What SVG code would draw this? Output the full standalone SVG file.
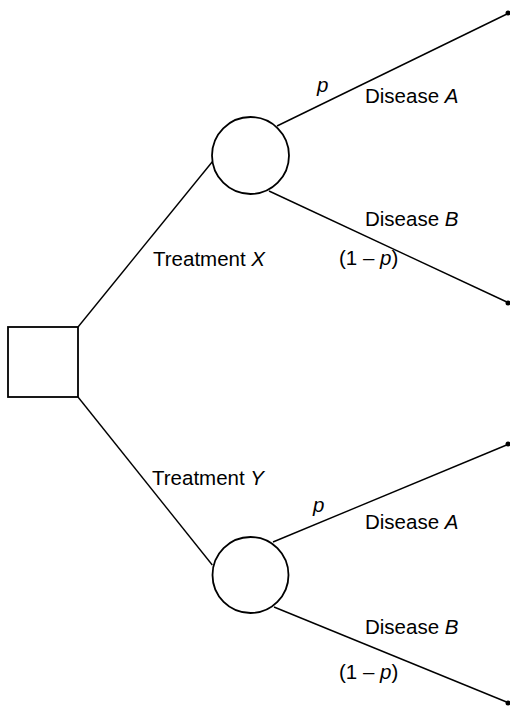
<svg xmlns="http://www.w3.org/2000/svg" width="510" height="709" viewBox="0 0 510 709">
<style>
.shape{fill:#fff;stroke:#000;stroke-width:1.8}
.edge{stroke:#000;stroke-width:1.4;fill:none}
.dot{fill:#000}
text{font-family:"Liberation Sans",Arial,sans-serif;font-size:20.5px;fill:#000}
.i{font-style:italic}
</style>
<rect width="510" height="709" fill="#fff"/>
<g id="connectors">
<line class="edge" x1="78" y1="327" x2="212.3" y2="161.7"/>
<line class="edge" x1="78" y1="397" x2="212.3" y2="565"/>
<line class="edge" x1="277" y1="126" x2="509" y2="13"/>
<line class="edge" x1="269" y1="191" x2="509" y2="303"/>
<line class="edge" x1="273" y1="542" x2="509" y2="444"/>
<line class="edge" x1="274" y1="607" x2="509" y2="703"/>
</g>
<g id="decision"><rect class="shape" x="8" y="327" width="70" height="70"/></g>
<g id="chanceX"><circle class="shape" cx="250.5" cy="155.5" r="38.5"/></g>
<g id="chanceY"><circle class="shape" cx="250.5" cy="575" r="38"/></g>
<g id="endXA"><circle class="dot" cx="508" cy="13" r="2.5"/></g>
<g id="endXB"><circle class="dot" cx="508" cy="303" r="2.5"/></g>
<g id="endYA"><circle class="dot" cx="508" cy="444" r="2.5"/></g>
<g id="endYB"><circle class="dot" cx="508" cy="703" r="2.5"/></g>
<g id="labels">
<text x="153" y="266">Treatment <tspan class="i">X</tspan></text>
<text x="152" y="485">Treatment <tspan class="i">Y</tspan></text>
<text class="i" x="317" y="92">p</text>
<text x="365" y="103">Disease <tspan class="i">A</tspan></text>
<text x="365" y="226">Disease <tspan class="i">B</tspan></text>
<text x="339" y="265">(1 – <tspan class="i">p</tspan>)</text>
<text class="i" x="313" y="512">p</text>
<text x="365" y="529">Disease <tspan class="i">A</tspan></text>
<text x="365" y="634">Disease <tspan class="i">B</tspan></text>
<text x="339" y="679">(1 – <tspan class="i">p</tspan>)</text>
</g>
</svg>
